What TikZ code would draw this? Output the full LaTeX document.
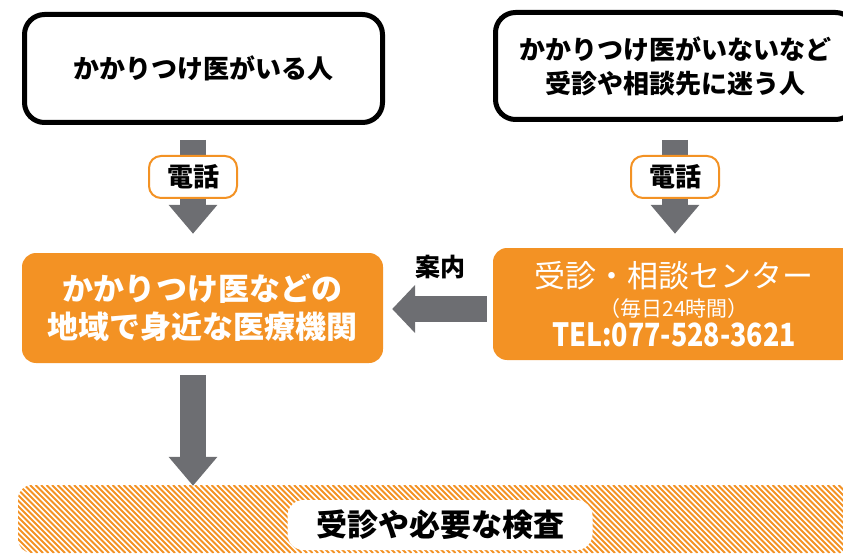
\documentclass[tikz,border=0pt]{standalone}
\usepackage{fontspec}
\setmainfont{Noto Sans CJK JP}
\usetikzlibrary{arrows.meta,backgrounds}
\definecolor{soudanorange}{HTML}{F39224}
\definecolor{arrowgray}{HTML}{6D6E72}

\begin{document}
\begin{tikzpicture}[x=1pt,y=-1pt,
  personbox/.style={draw=black,line width=5pt,rounded corners=20pt,fill=white,align=center,inner sep=0pt,font=\fontsize{26}{34}\selectfont\bfseries},
  orangebox/.style={fill=soudanorange,rounded corners=14pt,text=white,align=center,inner sep=0pt},
  telbox/.style={draw=soudanorange,line width=2pt,fill=white,rounded corners=12pt,minimum width=88pt,minimum height=42pt,inner sep=0pt,font=\fontsize{26}{26}\selectfont\bfseries},
  blockarrow/.style={draw=arrowgray,line width=26pt,-{Triangle[width=47pt,length=29pt]}}]
\useasboundingbox (0,0) rectangle (843,556);

% people
\node[personbox,minimum width=358pt,minimum height=108pt] (have) at (203.5,68.5) {かかりつけ医がいる人};
\node[personbox,minimum width=360pt,minimum height=107pt] (nohave) at (675.5,66) {かかりつけ医がいないなど\\受診や相談先に迷う人};

% orange boxes
\node[orangebox,minimum width=361pt,minimum height=110pt,font=\fontsize{31}{38}\selectfont\bfseries] (local) at (202.5,308) {かかりつけ医などの\\地域で身近な医療機関};
\node[orangebox,minimum width=362pt,minimum height=112pt,font=\fontsize{31}{31}\selectfont] (center) at (674,304) {%
  受診・相談センター\\[-2pt]
  {\fontsize{21}{24}\selectfont （毎日24時間）}\\[-1pt]
  \scalebox{0.84}[1]{\fontsize{32}{32}\selectfont\bfseries TEL:077-528-3621}};

\node[telbox] (tel1) at (193,177) {電話};
\node[telbox] (tel2) at (675,177) {電話};
\node[font=\fontsize{25}{25}\selectfont\bfseries] (annai) at (440,267) {案内};

% hatched band
\begin{scope}
\clip[rounded corners=14pt] (18,485) rectangle (880,553);
\foreach \x in {-80,-74.5,...,880}
  \draw[soudanorange,line width=1.8pt] (\x,485) -- ++(68,68);
\end{scope}
\node[fill=white,rounded corners=16pt,minimum width=305pt,minimum height=50pt,inner sep=0pt,font=\fontsize{31}{31}\selectfont\bfseries] (exam) at (440,525) {受診や必要な検査};

\begin{pgfonlayer}{background}
\draw[blockarrow,shorten <=15pt,shorten >=19pt] (have.south -| tel1) -- (tel1 |- local.north);
\draw[blockarrow,shorten <=18pt,shorten >=14pt] (nohave.south -| tel2) -- (tel2 |- center.north);
\draw[blockarrow,-{Triangle[width=47pt,length=23pt]},shorten <=6pt,shorten >=9pt] (center.west |- 0,309) -- (local.east |- 0,309);
\draw[blockarrow,shorten <=12pt,shorten >=14pt] (local.south -| tel1) -- (tel1 |- exam.north);
\end{pgfonlayer}
\end{tikzpicture}
\end{document}
